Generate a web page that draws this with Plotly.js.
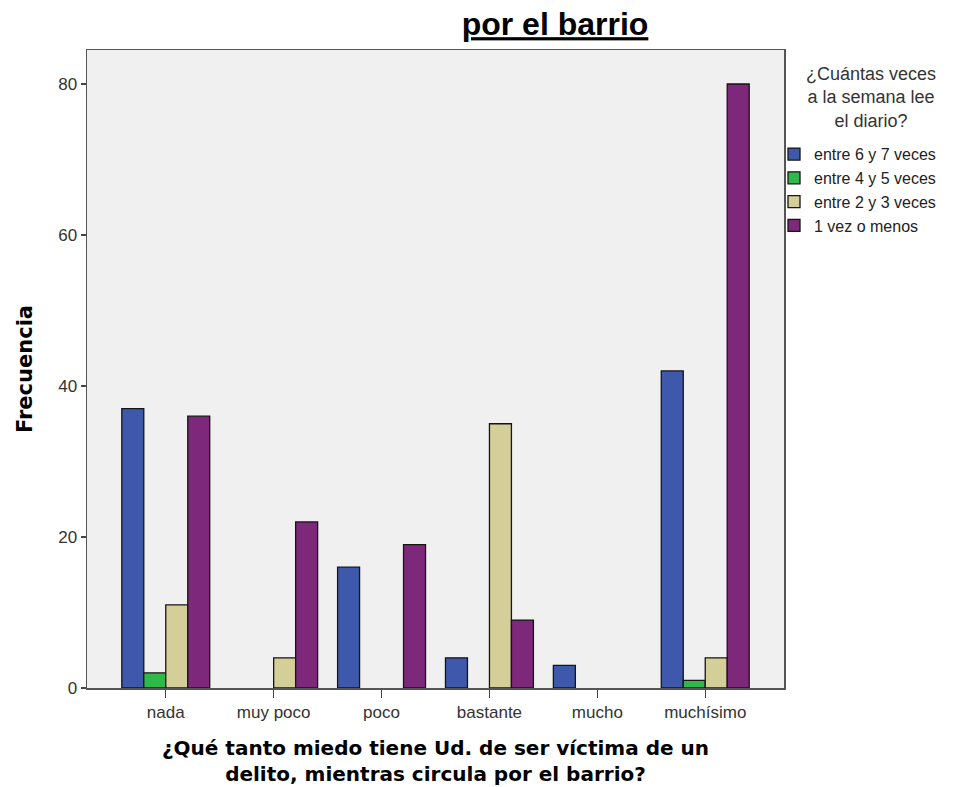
<!DOCTYPE html>
<html>
<head>
<meta charset="utf-8">
<script src="https://cdn.plot.ly/plotly-3.0.1.min.js"></script>
<style>body{margin:0;padding:0;background:#fff;} #chart{width:958px;height:787px;}</style>
</head>
<body>
<div id="chart"></div>
<script>
const categories = ["nada", "muy poco", "poco", "bastante", "mucho", "muchísimo"];
const seriesNames = ["entre 6 y 7 veces", "entre 4 y 5 veces", "entre 2 y 3 veces", "1 vez o menos"];
const vals6a7 = [37, 0, 16, 4, 3, 42];
const vals4a5 = [2, 0, 0, 0, 0, 1];
const vals2a3 = [11, 4, 0, 35, 0, 4];
const vals1omenos = [36, 22, 19, 9, 0, 80];
const yTicks = [0, 20, 40, 60, 80];
const legendTitle = "¿Cuántas veces<br>a la semana lee<br>el diario?";
const seriesValues = [vals6a7, vals4a5, vals2a3, vals1omenos];
const colors = ["#3e58ac", "#2fb94a", "#d4cf98", "#7e287c"];

// zero counts are drawn as no bar at all (as in the reference)
const traces = seriesValues.map((v, i) => ({
  type: "bar",
  name: seriesNames[i],
  x: categories,
  y: v.map(d => d === 0 ? null : d),
  marker: {color: colors[i], line: {color: "#151515", width: 1.3}},
  hoverinfo: "x+y+name"
}));

const sans = "Liberation Sans, Arial, sans-serif";
const boldFont = "DejaVu Sans, Verdana, sans-serif";

const layout = {
  width: 958, height: 787,
  margin: {l: 87, r: 174, t: 50, b: 99, autoexpand: false},
  paper_bgcolor: "#ffffff",
  plot_bgcolor: "#f0f0f0",
  font: {family: sans, color: "#333"},
  title: {
    text: "<b><u>por el barrio</u></b>",
    font: {size: 32, color: "#000", family: sans},
    x: 555/958, xanchor: "center", xref: "container",
    y: 1 - 24/787, yanchor: "middle", yref: "container"
  },
  barmode: "group",
  bargap: 0.185,
  bargroupgap: 0,
  xaxis: {
    type: "category",
    range: [-0.73, 5.73],
    automargin: false,
    showline: true, linecolor: "#555", linewidth: 1.5, mirror: true,
    ticks: "outside", ticklen: 8, tickcolor: "#444", tickwidth: 1.2,
    tickfont: {size: 17, color: "#333", family: sans},
    showgrid: false, zeroline: false,
    title: {
      text: "<b>¿Qué tanto miedo tiene Ud. de ser víctima de un<br>delito, mientras circula por el barrio?</b>",
      font: {size: 20, color: "#000", family: boldFont},
      standoff: 20
    }
  },
  yaxis: {
    range: [0, 84.5],
    tickvals: yTicks,
    automargin: false,
    showline: true, linecolor: "#555", linewidth: 1.5, mirror: true,
    ticks: "outside", ticklen: 5, tickcolor: "#444", tickwidth: 1.2,
    tickfont: {size: 17, color: "#333", family: sans},
    showgrid: false, zeroline: false,
    title: {text: "<b>Frecuencia</b>", font: {size: 21, color: "#000", family: boldFont}, standoff: 20}
  },
  showlegend: true,
  legend: {
    x: (774 - 87) / 697, xanchor: "left", xref: "paper",
    y: (687 - 137) / 637, yanchor: "top", yref: "paper",
    bgcolor: "rgba(0,0,0,0)",
    font: {size: 16, color: "#222", family: sans},
    itemwidth: 30,
    traceorder: "normal"
  },
  annotations: [{
    text: legendTitle,
    xref: "paper", yref: "paper",
    x: (871 - 87) / 697, xanchor: "center",
    y: (687 - 62) / 637, yanchor: "top",
    showarrow: false, align: "center",
    font: {size: 18, color: "#333", family: sans}
  }]
};

Plotly.newPlot("chart", traces, layout, {displayModeBar: false, staticPlot: true});
</script>
</body>
</html>
